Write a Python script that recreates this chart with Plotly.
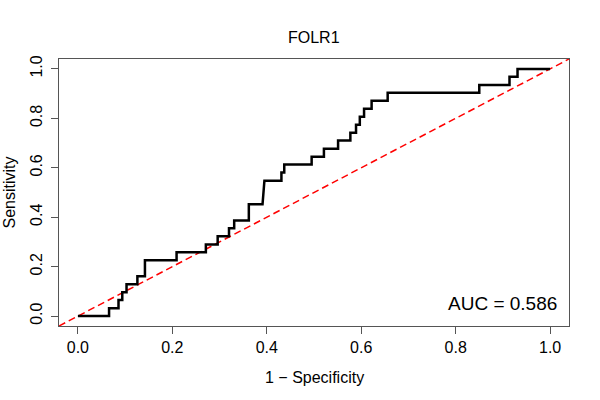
import plotly.graph_objects as go

# ROC curve step path (1 - specificity, sensitivity)
fpr = [0.0, 0.066, 0.066, 0.086, 0.086, 0.094, 0.094, 0.103, 0.103, 0.126, 0.126,
       0.142, 0.142, 0.209, 0.209, 0.271, 0.271, 0.296, 0.296, 0.320, 0.320,
       0.331, 0.331, 0.362, 0.362, 0.391, 0.395, 0.431, 0.431, 0.437, 0.437,
       0.495, 0.495, 0.521, 0.521, 0.551, 0.551, 0.577, 0.577, 0.589, 0.589,
       0.597, 0.597, 0.606, 0.606, 0.622, 0.622, 0.656, 0.656, 0.850, 0.850,
       0.914, 0.914, 0.931, 0.931, 1.0]
tpr = [0.0, 0.0, 0.032, 0.032, 0.065, 0.065, 0.097, 0.097, 0.129, 0.129, 0.161,
       0.161, 0.226, 0.226, 0.258, 0.258, 0.290, 0.290, 0.323, 0.323, 0.355,
       0.355, 0.387, 0.387, 0.452, 0.452, 0.548, 0.548, 0.581, 0.581, 0.613,
       0.613, 0.645, 0.645, 0.677, 0.677, 0.710, 0.710, 0.742, 0.742, 0.774,
       0.774, 0.806, 0.806, 0.839, 0.839, 0.871, 0.871, 0.903, 0.903, 0.935,
       0.935, 0.968, 0.968, 1.0, 1.0]
diag = [-0.04, 1.04]
tick_vals = [0.0, 0.2, 0.4, 0.6, 0.8, 1.0]
tick_text = ["0.0", "0.2", "0.4", "0.6", "0.8", "1.0"]
title_text = "FOLR1"
auc_text = "AUC = 0.586"

FONT = "Liberation Sans, Arial, Helvetica, sans-serif"
W, H = 600, 400
L, R, T, B = 59, 31, 59, 74
pw, ph = W - L - R, H - T - B

def px_x(x):
    return (x - L) / pw

def px_y(y):
    return (H - B - y) / ph

fig = go.Figure()
fig.add_trace(go.Scatter(x=diag, y=diag, mode="lines",
                         line=dict(color="#ff0000", width=1.5, dash="7px,4px"),
                         hoverinfo="skip", showlegend=False))
fig.add_trace(go.Scatter(x=fpr, y=tpr, mode="lines",
                         line=dict(color="black", width=2.5),
                         showlegend=False))

axis_common = dict(range=[-0.04, 1.04], tickvals=tick_vals, ticktext=tick_text,
                   showline=True, mirror=True, linecolor="#555555", linewidth=1,
                   ticks="outside", ticklen=7, tickcolor="#555555", tickwidth=1,
                   showgrid=False, zeroline=False, automargin=False,
                   tickfont=dict(family=FONT, size=16, color="black"))
fig.update_xaxes(**axis_common)
fig.update_yaxes(**axis_common, tickangle=-90, ticklabelstandoff=3)

annotations = [
    dict(text=title_text, x=0.5, y=px_y(37), xref="paper", yref="paper",
         showarrow=False, font=dict(family=FONT, size=16, color="black"),
         xanchor="center", yanchor="middle"),
    dict(text="1 \u2212 Specificity", x=0.5, y=px_y(377), xref="paper", yref="paper",
         showarrow=False, font=dict(family=FONT, size=16, color="black"),
         xanchor="center", yanchor="middle"),
    dict(text="Sensitivity", x=px_x(9), y=0.5, xref="paper", yref="paper",
         showarrow=False, font=dict(family=FONT, size=16, color="black"),
         textangle=-90, xanchor="center", yanchor="middle"),
    dict(text=auc_text, x=px_x(559), y=px_y(303), xref="paper", yref="paper",
         showarrow=False, font=dict(family=FONT, size=19, color="black"),
         xanchor="right", yanchor="middle"),
]

fig.update_layout(width=W, height=H, margin=dict(l=L, r=R, t=T, b=B),
                  plot_bgcolor="white", paper_bgcolor="white",
                  annotations=annotations, showlegend=False)

fig.write_html("out.html", config={"displayModeBar": False},
               post_script="document.body.style.margin='0';")
